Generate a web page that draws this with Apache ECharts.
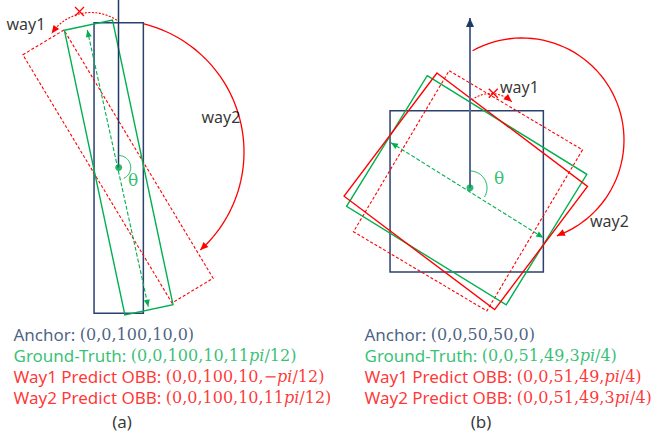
<!DOCTYPE html>
<html>
<head>
<meta charset="utf-8">
<script src="https://cdn.jsdelivr.net/npm/echarts@6/dist/echarts.min.js"></script>
<style>
html, body { margin: 0; padding: 0; background: #fff; }
#chart { width: 662px; height: 436px; }
</style>
</head>
<body>
<div id="chart"></div>
<script>
// geometry, in picture units (x right, y down)
// boxes: [cx, cy, w, h, rotation deg]
const anchorBoxes = [[118.7, 168, 49.3, 290.6, 0], [466.7, 191.3, 153.3, 161.3, 0]]
const truthBoxes = [[118.7, 167.5, 49.2, 291, -12], [466.7, 190.3, 187.6, 153.5, 31.7]]
const way1Boxes = [[118, 166.5, 48, 289.6, -31], [468, 190.8, 155.1, 187.3, 30.7]]
const way2Boxes = [[465.8, 191.3, 188.5, 154.3, 37]]
// double arrows along the ground-truth long side: [x1, y1, x2, y2]
const truthArrows = [[87.3, 30, 148.3, 306.7], [391, 142.7, 543.3, 237.7]]
// arcs: [cx, cy, r, startDeg, endDeg]
const way1Arcs = [[91, 60, 47.5, -57, -146], [490.7, 124.4, 30.9, -128, -47]]
const way2Arcs = [[112, 152, 132, -76, 48], [522, 140, 102, -119, 70]]
const thetaArcs = [[118.7, 167.5, 12, -90, 65], [470, 188, 17, -90, 32]]
const crossMarks = [[79.5, 11.5], [493.3, 93.3]]
const centers = [[118.7, 167.5], [470, 187.7]]
// vertical reference: [x, yTop, yBottom, hasArrow]
const refAxes = [[118.5, 0, 167.5, 0], [470, 18, 187.7, 1]]
const wayTags = [['way1', 6, 24], ['way2', 201, 117], ['way1', 499.5, 87], ['way2', 589.5, 221]]
const thetaTags = [[133, 180], [499, 178]]
const captionNames = ['Anchor:', 'Ground-Truth:', 'Way1 Predict OBB:', 'Way2 Predict OBB:']
const captionsA = ['(0,0,100,10,0)', '(0,0,100,10,11pi/12)', '(0,0,100,10,−pi/12)', '(0,0,100,10,11pi/12)']
const captionsB = ['(0,0,50,50,0)', '(0,0,51,49,3pi/4)', '(0,0,51,49,pi/4)', '(0,0,51,49,3pi/4)']
const panelNames = ['(a)', '(b)']

const NAVY = '#203864'
const GREEN = '#00B050'
const RED = '#FF0000'
const captionColors = ['navy', 'green', 'red', 'red']
const colorOf = { navy: NAVY, green: GREEN, red: RED }
const captionX = [13, 364]
const captionY = [334, 355, 376, 397]
const panelLabelPos = [[122, 421], [481, 421]]

const rad = d => d * Math.PI / 180

function boxCorners(b) {
  const [cx, cy, w, h, r] = b
  const c = Math.cos(rad(r))
  const s = Math.sin(rad(r))
  return [[-1, -1], [1, -1], [1, 1], [-1, 1]].map(([sx, sy]) => {
    const x = sx * w / 2
    const y = sy * h / 2
    return [cx + x * c - y * s, cy + x * s + y * c]
  })
}

function arcPoints(a) {
  const [cx, cy, r, a0, a1] = a
  const n = 60
  const pts = []
  for (let i = 0; i <= n; i++) {
    const t = rad(a0 + (a1 - a0) * i / n)
    pts.push([cx + r * Math.cos(t), cy + r * Math.sin(t)])
  }
  return pts
}

// triangle head in pixels, tip at p, pointing along (p - from)
function headShape(p, from, len, half) {
  const dx = p[0] - from[0]
  const dy = p[1] - from[1]
  const l = Math.hypot(dx, dy) || 1
  const ux = dx / l
  const uy = dy / l
  const bx = p[0] - ux * len
  const by = p[1] - uy * len
  return [p, [bx - uy * half, by + ux * half], [bx + uy * half, by - ux * half]]
}

function boxSeries(data, color, width, dash) {
  return {
    type: 'custom',
    coordinateSystem: 'cartesian2d',
    silent: true,
    data: data,
    renderItem: function(params, api) {
      const b = [0, 1, 2, 3, 4].map(i => api.value(i))
      const pts = boxCorners(b).map(p => api.coord(p))
      return {
        type: 'polygon',
        shape: { points: pts },
        style: { fill: 'none', stroke: color, lineWidth: width, lineDash: dash }
      }
    }
  }
}

function arcSeries(data, color, width, dash, head) {
  return {
    type: 'custom',
    coordinateSystem: 'cartesian2d',
    silent: true,
    data: data,
    renderItem: function(params, api) {
      const a = [0, 1, 2, 3, 4].map(i => api.value(i))
      const pts = arcPoints(a).map(p => api.coord(p))
      const children = [{
        type: 'polyline',
        shape: { points: pts },
        style: { fill: 'none', stroke: color, lineWidth: width, lineDash: dash }
      }]
      if (head) {
        const n = pts.length
        children.push({
          type: 'polygon',
          shape: { points: headShape(pts[n - 1], pts[n - 4], 8, 3.5) },
          style: { fill: color }
        })
      }
      return { type: 'group', children: children }
    }
  }
}

const captionRich = {}
Object.keys(colorOf).forEach(k => {
  captionRich['n_' + k] = { fontFamily: 'Noto Sans', fontSize: 17, color: colorOf[k] }
  captionRich['v_' + k] = { fontFamily: 'DejaVu Serif', fontSize: 16, color: colorOf[k] }
  captionRich['i_' + k] = { fontFamily: 'DejaVu Serif', fontStyle: 'italic', fontSize: 16, color: colorOf[k] }
})

function captionText(name, value, c) {
  const v = value.replace(/pi/g, '}{i_' + c + '|pi}{v_' + c + '|')
  return '{n_' + c + '|' + name + ' }{v_' + c + '|' + v + '}'
}

const captionData = []
;[captionsA, captionsB].forEach((list, p) => {
  list.forEach((v, i) => {
    captionData.push({
      value: [captionX[p], captionY[i]],
      label: { formatter: captionText(captionNames[i], v, captionColors[i]) }
    })
  })
})

const chart = echarts.init(document.getElementById('chart'), null, { renderer: 'svg' })
const option = {
  animation: false,
  grid: { left: 0, right: 0, top: 0, bottom: 0 },
  xAxis: { type: 'value', min: 0, max: 662, show: false },
  yAxis: { type: 'value', min: 0, max: 436, inverse: true, show: false },
  series: [
    boxSeries(anchorBoxes, '#2B4170', 1.5, null),
    boxSeries(way1Boxes, RED, 1.1, [3, 2]),
    boxSeries(truthBoxes, GREEN, 1.4, null),
    boxSeries(way2Boxes, RED, 1.4, null),
    {
      type: 'custom',
      coordinateSystem: 'cartesian2d',
      silent: true,
      data: truthArrows,
      renderItem: function(params, api) {
        const p1 = api.coord([api.value(0), api.value(1)])
        const p2 = api.coord([api.value(2), api.value(3)])
        return {
          type: 'group',
          children: [
            { type: 'line', shape: { x1: p1[0], y1: p1[1], x2: p2[0], y2: p2[1] }, style: { stroke: GREEN, lineWidth: 1.1, lineDash: [4, 2] } },
            { type: 'polygon', shape: { points: headShape(p1, p2, 7, 3) }, style: { fill: GREEN } },
            { type: 'polygon', shape: { points: headShape(p2, p1, 7, 3) }, style: { fill: GREEN } }
          ]
        }
      }
    },
    {
      type: 'custom',
      coordinateSystem: 'cartesian2d',
      silent: true,
      data: refAxes,
      renderItem: function(params, api) {
        const top = api.coord([api.value(0), api.value(1)])
        const bottom = api.coord([api.value(0), api.value(2)])
        const children = [{
          type: 'line',
          shape: { x1: top[0], y1: top[1], x2: bottom[0], y2: bottom[1] },
          style: { stroke: params.dataIndex ? '#5A6B95' : NAVY, lineWidth: params.dataIndex ? 2 : 1.5 }
        }]
        if (api.value(3)) {
          children.push({ type: 'polygon', shape: { points: headShape(top, bottom, 9, 4) }, style: { fill: NAVY } })
        }
        return { type: 'group', children: children }
      }
    },
    arcSeries(way1Arcs, RED, 1.1, [2, 1.5], true),
    arcSeries(way2Arcs, RED, 1.3, null, true),
    arcSeries(thetaArcs, GREEN, 1, null, false),
    {
      type: 'custom',
      coordinateSystem: 'cartesian2d',
      silent: true,
      data: crossMarks,
      renderItem: function(params, api) {
        const p = api.coord([api.value(0), api.value(1)])
        const d = 4.5
        return {
          type: 'group',
          children: [
            { type: 'line', shape: { x1: p[0] - d, y1: p[1] - d, x2: p[0] + d, y2: p[1] + d }, style: { stroke: RED, lineWidth: 1.3 } },
            { type: 'line', shape: { x1: p[0] - d, y1: p[1] + d, x2: p[0] + d, y2: p[1] - d }, style: { stroke: RED, lineWidth: 1.3 } }
          ]
        }
      }
    },
    {
      type: 'scatter',
      silent: true,
      symbolSize: 7,
      itemStyle: { color: '#00A050' },
      data: centers
    },
    {
      type: 'scatter',
      silent: true,
      symbolSize: 1,
      itemStyle: { color: 'rgba(0,0,0,0)' },
      label: { show: true, position: 'right', distance: 0, fontFamily: 'Noto Sans', fontSize: 16, color: '#000' },
      data: wayTags.map(t => ({ value: [t[1], t[2]], label: { formatter: t[0] } }))
    },
    {
      type: 'scatter',
      silent: true,
      symbolSize: 1,
      itemStyle: { color: 'rgba(0,0,0,0)' },
      label: { show: true, position: 'inside', fontFamily: 'DejaVu Serif', fontSize: 17, color: GREEN, formatter: 'θ' },
      data: thetaTags
    },
    {
      type: 'scatter',
      silent: true,
      symbolSize: 1,
      itemStyle: { color: 'rgba(0,0,0,0)' },
      label: { show: true, position: 'right', distance: 0, rich: captionRich },
      data: captionData
    },
    {
      type: 'scatter',
      silent: true,
      symbolSize: 1,
      itemStyle: { color: 'rgba(0,0,0,0)' },
      label: { show: true, position: 'inside', fontFamily: 'Noto Sans', fontSize: 17, color: '#000' },
      data: panelLabelPos.map((p, i) => ({ value: p, label: { formatter: panelNames[i] } }))
    }
  ]
}
chart.setOption(option)
</script>
</body>
</html>
